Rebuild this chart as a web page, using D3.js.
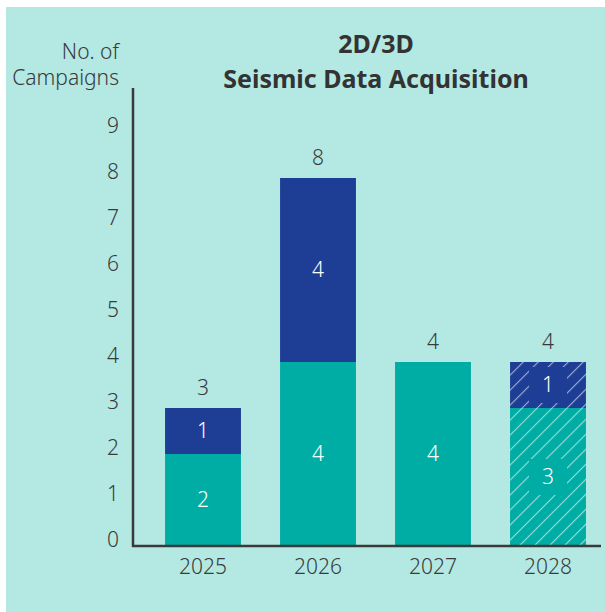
<!DOCTYPE html>
<html>
<head>
<meta charset="utf-8">
<script src="https://cdn.jsdelivr.net/npm/d3@7"></script>
<style>
  body { margin: 0; background: #fff; }
  text { font-family: "Noto Sans", "Open Sans", sans-serif; font-weight: 300; }
</style>
</head>
<body>
<svg id="chart" width="605" height="612"></svg>
<script>
// data
const years = ['2025', '2026', '2027', '2028'];
const tealValues = [2, 4, 4, 3];
const navyValues = [1, 4, 0, 1];
const hatched = [false, false, false, true];
const yTicks = [0, 1, 2, 3, 4, 5, 6, 7, 8, 9];

const TEAL = '#00ADA4';
const NAVY = '#1E3E96';
const INK = '#3a3a3a';
const FS = '21px';

const svg = d3.select('#chart');

svg.append('rect')
  .attr('x', 6).attr('y', 7)
  .attr('width', 605).attr('height', 612)
  .attr('fill', '#B3E8E3');

// hatch pattern
const defs = svg.append('defs');
defs.append('pattern')
  .attr('id', 'hatch')
  .attr('patternUnits', 'userSpaceOnUse')
  .attr('width', 10.6).attr('height', 10.6)
  .attr('patternTransform', 'rotate(45)')
  .append('line')
  .attr('x1', 0).attr('y1', 0).attr('x2', 0).attr('y2', 10.6)
  .attr('stroke', 'rgba(255,255,255,0.55)')
  .attr('stroke-width', 2.2);

const x = d3.scaleBand()
  .domain(years)
  .range([145.5, 605.5])
  .paddingInner(0.34)
  .paddingOuter(0.17);

const y = d3.scaleLinear().domain([0, 9]).range([546, 132]);

const rows = years.map((yr, i) => ({
  year: yr, teal: tealValues[i], navy: navyValues[i], hatch: hatched[i],
  total: tealValues[i] + navyValues[i]
}));

// bars
const g = svg.append('g');
const segs = [];
rows.forEach(r => {
  segs.push({ year: r.year, y0: 0, y1: r.teal, color: TEAL, hatch: r.hatch, v: r.teal });
  if (r.navy > 0) segs.push({ year: r.year, y0: r.teal, y1: r.total, color: NAVY, hatch: r.hatch, v: r.navy });
});

g.selectAll('.seg')
  .data(segs)
  .enter()
  .append('rect')
  .attr('x', d => x(d.year))
  .attr('y', d => y(d.y1))
  .attr('width', x.bandwidth())
  .attr('height', d => y(d.y0) - y(d.y1))
  .attr('fill', d => d.color);

g.selectAll('.hatch')
  .data(segs.filter(d => d.hatch))
  .enter()
  .append('rect')
  .attr('x', d => x(d.year))
  .attr('y', d => y(d.y1))
  .attr('width', x.bandwidth())
  .attr('height', d => y(d.y0) - y(d.y1))
  .attr('fill', 'url(#hatch)');

// solid boxes behind labels on hatched bars
g.selectAll('.lblbox')
  .data(segs.filter(d => d.hatch))
  .enter()
  .append('rect')
  .attr('x', d => x(d.year) + x.bandwidth() / 2 - 19)
  .attr('y', d => (y(d.y0) + y(d.y1)) / 2 - 18)
  .attr('width', 38)
  .attr('height', 36)
  .attr('fill', d => d.color);

g.selectAll('.seglabel')
  .data(segs)
  .enter()
  .append('text')
  .attr('x', d => x(d.year) + x.bandwidth() / 2)
  .attr('y', d => (y(d.y0) + y(d.y1)) / 2)
  .attr('dy', '0.35em')
  .attr('text-anchor', 'middle')
  .attr('fill', '#fff')
  .style('font-size', FS)
  .text(d => d.v);

g.selectAll('.total')
  .data(rows)
  .enter()
  .append('text')
  .attr('x', d => x(d.year) + x.bandwidth() / 2)
  .attr('y', d => y(d.total) - 13)
  .attr('text-anchor', 'middle')
  .attr('fill', INK)
  .style('font-size', FS)
  .text(d => d.total);

// axes
const yAxis = svg.append('g')
  .attr('transform', 'translate(133,0)')
  .call(d3.axisLeft(y).tickValues(yTicks).tickSize(0).tickPadding(14));
yAxis.select('.domain').remove();
yAxis.selectAll('text')
  .attr('fill', INK)
  .attr('dy', '0.03em')
  .style('font-size', FS)
  .style('font-family', '"Noto Sans", sans-serif');

svg.append('line')
  .attr('x1', 133).attr('x2', 133)
  .attr('y1', 88).attr('y2', 547)
  .attr('stroke', INK).attr('stroke-width', 2.5);

const xAxis = svg.append('g')
  .attr('transform', 'translate(0,546)')
  .call(d3.axisBottom(x).tickSize(0).tickPadding(13));
xAxis.select('.domain').remove();
xAxis.selectAll('text')
  .attr('fill', INK)
  .style('font-size', FS)
  .style('font-family', '"Noto Sans", sans-serif');

svg.append('line')
  .attr('x1', 132).attr('x2', 601)
  .attr('y1', 546).attr('y2', 546)
  .attr('stroke', INK).attr('stroke-width', 2.5);

// axis title
const yTitle = svg.append('text')
  .attr('text-anchor', 'end')
  .attr('fill', INK)
  .style('font-size', FS);
yTitle.append('tspan').attr('x', 119).attr('y', 59).text('No. of');
yTitle.append('tspan').attr('x', 119).attr('y', 85).text('Campaigns');

// chart title
const title = svg.append('text')
  .attr('text-anchor', 'middle')
  .attr('fill', '#333')
  .style('font-size', '25px')
  .style('font-weight', 'bold');
title.append('tspan').attr('x', 376).attr('y', 53).text('2D/3D');
title.append('tspan').attr('x', 376).attr('y', 88).text('Seismic Data Acquisition');
</script>
</body>
</html>
